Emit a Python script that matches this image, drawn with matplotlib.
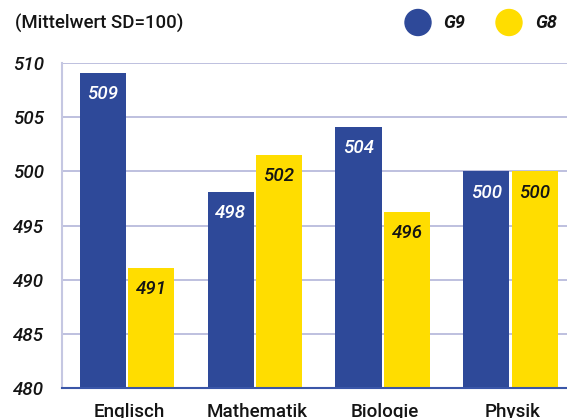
import matplotlib.pyplot as plt
from matplotlib.patches import Ellipse
import numpy as np

faecher = ["Englisch", "Mathematik", "Biologie", "Physik"]
g9 = [509.1, 498.1, 504.1, 500.0]
g8 = [491.1, 501.5, 496.3, 500.0]
g9_labels = ["509", "498", "504", "500"]
g8_labels = ["491", "502", "496", "500"]
yticks = [480, 485, 490, 495, 500, 505, 510]

blau = "#2E4999"
gelb = "#FFDD00"
dunkel = "#141414"
schrift = "Roboto"

fig = plt.figure(figsize=(5.67, 4.18), dpi=100, facecolor="white")
ax = fig.add_axes([0.1093, 0.0718, 0.8907, 0.777])

x = np.arange(len(faecher))
w = 0.36
off = 0.19
ax.bar(x - off, np.array(g9) - 480, w, bottom=480, color=blau, zorder=3)
ax.bar(x + off, np.array(g8) - 480, w, bottom=480, color=gelb, zorder=3)

# Werte in die Balken schreiben
for i in range(len(faecher)):
    ax.text(x[i] - off, g9[i] - 1.95, g9_labels[i], ha="center", va="center",
            color="white", fontsize=13.5, style="italic", weight="medium",
            family=schrift, zorder=4)
    ax.text(x[i] + off, g8[i] - 1.95, g8_labels[i], ha="center", va="center",
            color=dunkel, fontsize=13.5, style="italic", weight="medium",
            family=schrift, zorder=4)

ax.set_xlim(-0.508, 3.44)
ax.set_ylim(480, 510)
ax.set_yticks(yticks)
ax.set_yticklabels([str(t) for t in yticks], style="italic", fontsize=13.5,
                   weight="medium", family=schrift, color=dunkel)
ax.set_xticks(x + 0.015)
ax.set_xticklabels(faecher, fontsize=13.5, weight="medium", family=schrift,
                   color=dunkel)
ax.tick_params(axis="both", length=0)
ax.tick_params(axis="y", pad=13)
ax.tick_params(axis="x", pad=11)

ax.grid(axis="y", color="#B3B5D9", linewidth=1.2, zorder=0)
for s in ["top", "right"]:
    ax.spines[s].set_visible(False)
ax.spines["left"].set_color("#C5C7E2")
ax.spines["left"].set_linewidth(1.5)
ax.spines["bottom"].set_color("#3A56A8")
ax.spines["bottom"].set_linewidth(1.5)
ax.spines["bottom"].set_zorder(5)

fig.text(15 / 567, 0.944, "(Mittelwert SD=100)", fontsize=13.4, weight="medium",
         family=schrift, color=dunkel, va="center")

# Legende oben rechts
rx = 26 / 567
ry = 26 / 418
yl = 1 - 22.5 / 418
fig.patches.append(Ellipse((418 / 567, yl), rx, ry, transform=fig.transFigure,
                           color=blau, figure=fig))
fig.text(443 / 567, yl, "G9", fontsize=13, style="italic", weight="bold",
         family=schrift, color=dunkel, va="center")
fig.patches.append(Ellipse((509 / 567, yl), rx, ry, transform=fig.transFigure,
                           color=gelb, figure=fig))
fig.text(535 / 567, yl, "G8", fontsize=13, style="italic", weight="bold",
         family=schrift, color=dunkel, va="center")

fig.savefig("out.png", dpi=100, facecolor="white")
